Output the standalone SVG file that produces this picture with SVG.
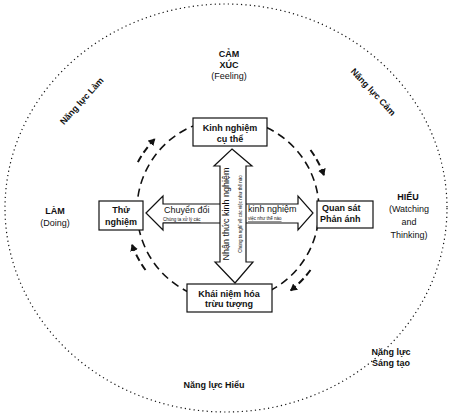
<svg xmlns="http://www.w3.org/2000/svg" width="450" height="417" viewBox="0 0 450 417">
<defs>
<marker id="ah" markerWidth="8" markerHeight="8" refX="6" refY="4" orient="auto" markerUnits="userSpaceOnUse">
<path d="M0,0 L7,4 L0,8 z" fill="#111"/>
</marker>
</defs>
<style>
text{font-family:"Liberation Sans",Arial,sans-serif;fill:#111}
.b{font-weight:bold;font-size:9px}
.n{font-size:9px}
.s{font-size:4.5px}
.box{fill:#fff;stroke:#111;stroke-width:1.2}
.arr{fill:#fff;stroke:#111;stroke-width:1.2;stroke-linejoin:miter}
.cyc{fill:none;stroke:#111;stroke-width:2;stroke-dasharray:7 4}
.dot{fill:none;stroke:#111;stroke-width:1.2;stroke-dasharray:1.2 3.2}
.dash{fill:none;stroke:#111;stroke-width:1.6;stroke-dasharray:8 5}
</style>
<rect width="450" height="417" fill="#fff"/>
<ellipse class="dot" cx="226" cy="208" rx="221" ry="204"/>
<circle class="dash" cx="228" cy="210" r="91"/>
<g id="connectors">
<path class="cyc" d="M137.9,162.1 A102,102 0 0 1 154.6,139.1" marker-end="url(#ah)"/>
<path class="cyc" d="M310.5,150 A102,102 0 0 1 323.9,175.1" marker-end="url(#ah)"/>
<path class="cyc" d="M310.5,270 A102,102 0 0 1 290.8,290.4" marker-end="url(#ah)"/>
<path class="cyc" d="M145.5,270 A102,102 0 0 1 132.1,244.9" marker-end="url(#ah)"/>
</g>
<g id="axis-horizontal">
<path class="arr" d="M146,213 L163,196 L163,204 L298,204 L298,196 L313,213 L298,230 L298,223 L163,223 L163,230 Z"/>
<text class="n" x="164" y="213">Chuyển đổi</text>
<text class="s" x="163" y="221" text-decoration="underline">Chúng ta xử lý các</text>
<text class="n" x="248" y="212">kinh nghiệm</text>
<text class="s" x="248" y="220" text-decoration="underline">việc như thế nào</text>
</g>
<g id="axis-vertical">
<path class="arr" d="M232,149 L252,166 L246,166 L246,262 L253,262 L235,283 L215,262 L220,262 L220,166 L214,166 Z"/>
<text class="n" transform="translate(229,214) rotate(-90)" text-anchor="middle">Nhận thức kinh nghiệm</text>
<text class="s" transform="translate(242,214) rotate(-90)" text-anchor="middle">Chúng ta nghĩ về các việc như thế nào</text>
</g>
<g id="node-kinhnghiem">
<rect class="box" x="193" y="118" width="74" height="28"/>
<text class="b" x="230" y="131" text-anchor="middle">Kinh nghiệm</text>
<text class="b" x="230" y="142" text-anchor="middle">cụ thể</text>
</g>
<g id="node-thunghiem">
<rect class="box" x="99" y="201" width="44" height="29"/>
<text class="b" x="121" y="213" text-anchor="middle">Thử</text>
<text class="b" x="121" y="225" text-anchor="middle">nghiệm</text>
</g>
<g id="node-quansat">
<rect class="box" x="317" y="201" width="56" height="27"/>
<text class="b" x="322" y="211">Quan sát</text>
<text class="b" x="320" y="222">Phản ánh</text>
</g>
<g id="node-khainiem">
<rect class="box" x="187" y="284" width="85" height="28"/>
<text class="b" x="229" y="297" text-anchor="middle">Khái niệm hóa</text>
<text class="b" x="229" y="307" text-anchor="middle">trừu tượng</text>
</g>
<g id="label-camxuc">
<text class="b" x="229" y="57" text-anchor="middle">CẢM</text>
<text class="b" x="229" y="68" text-anchor="middle">XÚC</text>
<text class="n" x="229" y="79" text-anchor="middle">(Feeling)</text>
</g>
<g id="label-lam">
<text class="b" x="55" y="214" text-anchor="middle">LÀM</text>
<text class="n" x="55" y="226" text-anchor="middle">(Doing)</text>
</g>
<g id="label-hieu">
<text class="b" x="408" y="200" text-anchor="middle">HIỂU</text>
<text class="n" x="409" y="212" text-anchor="middle">(Watching</text>
<text class="n" x="409" y="225" text-anchor="middle">and</text>
<text class="n" x="409" y="238" text-anchor="middle">Thinking)</text>
</g>
<text class="b" transform="translate(84,103) rotate(-48)" text-anchor="middle">Năng lực Làm</text>
<text class="b" transform="translate(371,94) rotate(47)" text-anchor="middle">Năng lực Cảm</text>
<text class="b" x="391" y="355" text-anchor="middle">Năng lực</text>
<text class="b" x="391" y="366" text-anchor="middle">Sáng tạo</text>
<text class="b" x="214" y="388" text-anchor="middle">Năng lực Hiểu</text>
</svg>
